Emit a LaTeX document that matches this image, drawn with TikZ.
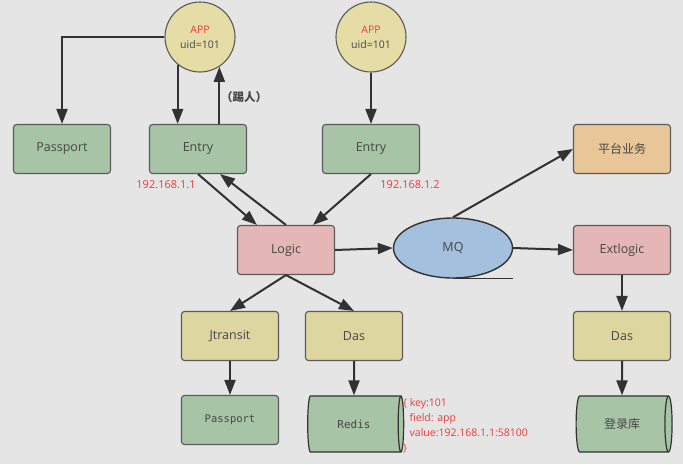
\documentclass[tikz,border=0pt]{standalone}
\usepackage{fontspec}
\setmainfont{Open Sans}
\newfontfamily\cjk{Noto Sans CJK SC}
\newfontfamily\monof{DejaVu Sans Mono}
\usetikzlibrary{arrows.meta,shapes.geometric,calc}
\definecolor{bg}{RGB}{229,229,229}
\definecolor{gfill}{RGB}{168,196,166}
\definecolor{yfill}{RGB}{222,214,160}
\definecolor{cfill}{RGB}{230,221,166}
\definecolor{pfill}{RGB}{229,182,182}
\definecolor{bfill}{RGB}{163,192,222}
\definecolor{ofill}{RGB}{233,198,152}
\definecolor{bord}{RGB}{90,90,90}
\definecolor{txt}{RGB}{70,70,70}
\definecolor{redt}{RGB}{232,60,60}
\definecolor{ln}{RGB}{50,50,50}
\tikzset{
  box/.style={draw=bord, line width=1.1pt, rounded corners=3pt, minimum width=97pt, minimum height=49pt, inner sep=0pt, text=txt, font=\fontsize{12.5}{14}\selectfont},
  app/.style={circle, draw=bord, line width=1.1pt, fill=cfill, minimum size=70pt, inner sep=0pt, align=center, text=txt, font=\fontsize{10.5}{15}\selectfont},
  db/.style={cylinder, draw=ln, line width=1.2pt, fill=gfill, minimum width=56pt, minimum height=96pt, shape aspect=0.65, inner sep=0pt, text=txt},
  arr/.style={-{Triangle[length=15pt,width=11pt]}, line width=2pt, draw=ln},
  ip/.style={text=redt, font=\fontsize{11}{13}\selectfont}
}
\begin{document}
\begin{tikzpicture}[x=1pt,y=-1pt]
\useasboundingbox[fill=bg] (0,0) rectangle (683,464);
% nodes
\node[app] (app1) at (200,37) {\textcolor{redt}{APP}\\uid=101};
\node[app] (app2) at (371,37) {\textcolor{redt}{APP}\\uid=101};
\node[box, fill=gfill] (passport) at (62,149) {Passport};
\node[box, fill=gfill] (entry1) at (198,149) {Entry};
\node[box, fill=gfill] (entry2) at (371,149) {Entry};
\node[box, fill=ofill, font=\cjk\fontsize{12}{14}\selectfont] (plat) at (622,149) {平台业务};
\node[box, fill=pfill] (logic) at (286,250) {Logic};
\node[ellipse, draw=ln, line width=1.4pt, fill=bfill, minimum width=119pt, minimum height=60pt, inner sep=0pt, text=txt, font=\fontsize{12.5}{14}\selectfont] (mq) at (453,248) {MQ};
\node[box, fill=pfill] (ext) at (622,250) {Extlogic};
\node[box, fill=yfill] (jtr) at (230,336) {Jtransit};
\node[box, fill=yfill] (das1) at (354,336) {Das};
\node[box, fill=yfill] (das2) at (622,336) {Das};
\node[box, fill=gfill, font=\monof\fontsize{10.5}{12}\selectfont] (passport2) at (230,420) {Passport};
\node[db, font=\monof\fontsize{11}{12}\selectfont] (redis) at (354,424) {Redis};
\node[db, font=\cjk\fontsize{12}{14}\selectfont] (login) at (622,424) {登录库};
% labels
\node[ip] (ip1) at (166,185) {192.168.1.1};
\node[ip] (ip2) at (410,185) {192.168.1.2};
\node[text=txt, font=\cjk\bfseries\fontsize{11.5}{13}\selectfont] (kick) at (244,97) {（踢人）};
\node[anchor=north west, align=left, text=redt, font=\fontsize{10.5}{15}\selectfont, inner sep=0pt] (rlabel) at (403,398)
  {\{ key:101\\\hspace{6.5pt}field: app\\\hspace{6.5pt}value:192.168.1.1:58100\\\}};
% MQ tail
\draw[line width=1.4pt, draw=ln] (mq.south) -- (mq.south -| mq.east);
% connectors
\draw[arr] (app1.west) -| (passport.north);
\draw[arr] (app1.231) -- (app1.231 |- entry1.north);
\draw[arr] (app1.303 |- entry1.north) -- (app1.303);
\draw[arr] (app2) -- (entry2);
\draw[arr] (entry1.south) -- ($(logic.north west)+(20,0)$);
\draw[arr] (logic.north) -- ($(entry1.south)+(22,0)$);
\draw[arr] (entry2.south) -- ($(logic.north)+(27,0)$);
\draw[arr] (logic.east) -- (mq.west);
\draw[arr] (mq.north) -- (plat.west);
\draw[arr] (mq.east) -- (ext.west);
\draw[arr] (ext) -- (das2);
\draw[arr] (das2) -- (login);
\draw[arr] (logic.south) -- (jtr.north);
\draw[arr] (logic.south) -- (das1.north);
\draw[arr] (jtr) -- (passport2);
\draw[arr] (das1) -- (redis);
\end{tikzpicture}
\end{document}
